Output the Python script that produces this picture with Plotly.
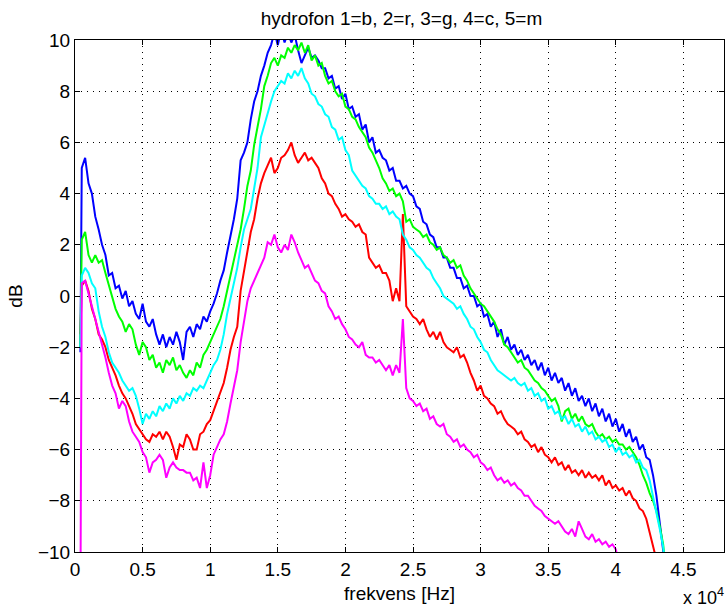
import numpy as np
import plotly.graph_objects as go

# frequency axis in units of 10^4 Hz: one initial sample, then a 250 Hz grid
f_first = 0.04
f_start = 0.05
f_step = 0.025

blue = [-2.2,
    5.0, 5.4, 4.4, 4.0, 3.1, 2.6, 2.0, 1.6, 0.8, 0.9,
    0.3, 0.4, -0.1, 0.2, -0.4, -0.2, -0.7, -0.9, -0.3, -1.0,
    -1.2, -0.9, -1.5, -1.9, -1.5, -2.0, -1.6, -1.9, -1.4, -1.8,
    -2.5, -1.4, -1.2, -1.6, -1.1, -1.3, -0.8, -1.0, -0.6, -0.3,
    0.1, 0.6, 1.0, 1.7, 2.3, 3.0, 3.8, 5.3, 5.6, 6.0,
    6.9, 7.6, 8.0, 8.6, 9.0, 9.5, 9.8, 10.3, 9.8, 10.4,
    9.9, 10.3, 9.9, 10.2, 9.6, 9.1, 9.4, 9.7, 9.3, 9.4,
    9.2, 8.9, 8.9, 8.5, 8.6, 8.1, 8.2, 7.7, 7.9, 7.3,
    7.4, 7.0, 7.1, 6.5, 6.7, 6.0, 6.2, 5.6, 5.7, 5.4,
    5.3, 4.9, 5.0, 4.5, 4.5, 4.2, 4.3, 4.0, 3.9, 3.5,
    3.4, 2.9, 2.8, 2.4, 2.3, 1.9, 1.9, 1.5, 1.5, 1.1,
    1.1, 0.7, 0.7, 0.3, 0.4, 0.0, 0.0, -0.4, -0.3, -0.8,
    -0.7, -1.2, -1.0, -1.6, -1.3, -1.9, -1.6, -2.1, -1.9, -2.3,
    -2.1, -2.5, -2.3, -2.7, -2.5, -2.9, -2.6, -3.1, -2.8, -3.3,
    -3.0, -3.4, -3.2, -3.7, -3.4, -3.9, -3.6, -4.1, -3.9, -4.3,
    -4.0, -4.5, -4.2, -4.7, -4.4, -4.9, -4.6, -5.1, -4.8, -5.3,
    -5.0, -5.5, -5.2, -5.7, -5.5, -6.0, -5.8, -6.3, -6.4, -7.0,
    -7.8, -8.8, -9.8, -11.0]

red = [-1.5,
    0.4, 0.6, 0.2, -0.5, -0.9, -1.5, -1.7, -2.0, -2.5, -2.8,
    -3.1, -3.5, -3.8, -4.0, -4.3, -4.6, -5.0, -5.2, -5.4, -5.6,
    -5.7, -5.4, -5.5, -5.3, -5.6, -5.3, -5.5, -5.9, -6.4, -5.8,
    -5.9, -5.4, -5.6, -6.0, -6.0, -5.4, -5.3, -5.0, -4.85, -4.5,
    -4.1, -3.8, -3.4, -2.8, -2.1, -1.6, -1.2, 0.2, 1.0, 1.8,
    2.5, 3.0, 3.8, 4.4, 4.8, 5.1, 5.4, 4.8, 5.0, 5.4,
    5.5, 5.7, 6.0, 5.5, 5.2, 5.4, 5.6, 5.3, 5.4, 5.2,
    5.0, 4.6, 4.4, 4.0, 3.9, 3.6, 3.4, 3.1, 3.2, 3.0,
    2.9, 2.7, 2.8, 2.5, 2.4, 1.5, 1.3, 1.1, 1.2, 0.9,
    0.9, 0.6, -0.2, 0.3, -0.2, 3.2, -0.4, -0.6, -0.8, -0.9,
    -1.1, -0.9, -1.3, -1.6, -1.4, -1.7, -1.4, -1.8, -2.0, -2.1,
    -2.2, -2.0, -2.4, -2.3, -2.6, -3.0, -3.3, -3.7, -3.5, -3.9,
    -4.0, -4.2, -4.3, -4.6, -4.5, -4.8, -5.0, -5.1, -5.2, -5.4,
    -5.3, -5.6, -5.7, -5.9, -5.8, -6.1, -5.9, -6.2, -6.3, -6.5,
    -6.3, -6.6, -6.5, -6.8, -6.6, -6.9, -6.8, -7.0, -6.8, -7.1,
    -6.9, -7.1, -7.0, -7.2, -7.0, -7.4, -7.2, -7.5, -7.4, -7.6,
    -7.5, -7.8, -7.6, -7.9, -8.0, -8.3, -8.4, -8.7, -9.2, -9.7,
    -10.3, -11.0]

green = [-2.0,
    2.2, 2.5, 1.6, 1.3, 1.6, 1.3, 1.4, 0.9, 0.4, 0.0,
    -0.5, -0.8, -1.0, -1.4, -1.1, -1.3, -1.9, -2.3, -1.8, -2.0,
    -2.5, -2.3, -2.8, -2.6, -3.0, -2.5, -2.7, -2.4, -2.9, -2.7,
    -3.0, -3.2, -2.9, -3.1, -2.6, -2.8, -2.3, -2.1, -1.8, -1.5,
    -1.2, -0.9, -0.4, 0.2, 0.8, 1.4, 2.0, 2.6, 3.4, 4.3,
    4.9, 5.9, 6.6, 7.3, 8.2, 8.6, 9.1, 9.3, 9.0, 9.4,
    9.3, 9.7, 9.5, 9.8, 9.6, 9.9, 9.5, 9.8, 9.2, 9.4,
    9.0, 9.1, 8.6, 8.3, 8.4, 8.0, 7.8, 7.9, 7.4, 7.3,
    7.0, 6.9, 6.6, 6.4, 6.2, 5.8, 5.6, 5.3, 5.0, 4.6,
    4.4, 4.1, 4.2, 3.9, 4.0, 3.7, 2.9, 3.0, 2.7, 2.6,
    2.5, 2.3, 2.4, 2.1, 2.0, 1.8, 1.9, 1.6, 1.5, 1.3,
    1.4, 1.1, 1.2, 0.8, 0.6, 0.3, 0.1, -0.1, -0.3, -0.4,
    -0.6, -0.8, -1.0, -1.3, -1.5, -1.9, -2.0, -2.2, -2.4, -2.6,
    -2.5, -2.8, -2.9, -3.1, -3.3, -3.4, -3.6, -3.7, -3.9, -4.1,
    -4.0, -4.3, -4.9, -4.5, -4.4, -4.8, -4.6, -4.9, -4.7, -5.0,
    -5.1, -5.0, -5.3, -5.5, -5.4, -5.6, -5.5, -5.7, -5.6, -5.8,
    -5.8, -6.0, -5.9, -6.1, -6.3, -6.6, -7.0, -7.3, -7.7, -8.0,
    -8.4, -9.0, -9.7, -11.0]

cyan = [-2.0,
    0.8, 1.1, 0.9, 0.5, 0.3, -0.6, -1.2, -1.6, -2.2, -2.6,
    -2.8, -3.0, -3.3, -3.5, -3.7, -3.6, -3.9, -4.4, -5.0, -4.6,
    -4.8, -4.5, -4.7, -4.3, -4.5, -4.2, -4.4, -4.0, -4.2, -3.9,
    -4.1, -3.8, -3.9, -3.6, -3.7, -3.5, -3.6, -3.3, -3.0, -2.7,
    -2.5, -2.1, -1.5, -0.7, -0.1, 0.5, 1.1, 1.9, 2.6, 3.0,
    3.4, 4.2, 5.0, 6.2, 6.7, 7.1, 7.6, 8.0, 8.2, 8.4,
    8.3, 8.7, 8.5, 8.8, 8.6, 8.9, 8.5, 8.3, 7.9, 7.8,
    7.5, 7.4, 7.1, 7.0, 6.6, 6.5, 6.1, 6.2, 5.7, 5.5,
    4.9, 4.7, 4.5, 4.3, 4.2, 3.9, 3.8, 3.6, 3.6, 3.4,
    3.5, 3.2, 3.3, 3.1, 3.0, 2.4, 2.2, 1.9, 1.8, 1.6,
    1.5, 1.3, 1.1, 1.0, 0.7, 0.5, 0.3, 0.0, -0.1, -0.2,
    -0.3, -0.5, -0.4, -0.7, -0.9, -1.2, -1.3, -1.6, -1.8, -2.1,
    -2.2, -2.5, -2.7, -2.9, -3.0, -3.1, -3.2, -3.3, -3.2, -3.4,
    -3.5, -3.4, -3.7, -3.6, -3.9, -3.8, -4.1, -4.0, -4.4, -4.3,
    -4.6, -4.5, -4.8, -4.7, -5.0, -4.8, -5.1, -5.0, -5.3, -5.1,
    -5.4, -5.3, -5.6, -5.5, -5.7, -5.6, -5.9, -5.8, -6.1, -5.9,
    -6.2, -6.1, -6.3, -6.2, -6.5, -6.4, -6.7, -6.8, -7.2, -7.8,
    -8.5, -9.1, -9.8, -11.0]

magenta = [-12.0,
    0.5, 0.6, 0.1, -0.4, -0.8, -1.4, -1.9, -2.4, -3.0, -3.5,
    -3.8, -4.4, -4.1, -4.3, -4.9, -5.3, -5.5, -5.7, -6.1, -6.3,
    -6.9, -6.5, -6.4, -6.2, -6.4, -7.1, -6.7, -6.5, -6.7, -6.8,
    -6.8, -6.9, -6.9, -7.2, -7.1, -7.5, -6.5, -7.5, -7.0, -6.2,
    -5.9, -5.6, -5.4, -4.9, -4.2, -3.6, -2.9, -1.8, -0.9, -0.2,
    0.3, 0.6, 0.9, 1.2, 1.5, 2.1, 2.0, 2.4, 1.9, 1.7,
    2.0, 1.8, 2.4, 2.1, 1.7, 1.4, 1.1, 1.2, 0.9, 0.6,
    0.5, 0.2, 0.1, -0.4, -0.6, -0.9, -0.8, -1.1, -1.3, -1.6,
    -1.7, -1.9, -2.0, -1.8, -2.3, -2.4, -2.4, -2.6, -2.5, -2.7,
    -2.9, -2.7, -3.1, -2.7, -3.0, -0.9, -3.6, -4.0, -4.1, -4.3,
    -4.2, -4.5, -4.4, -4.8, -4.7, -5.0, -5.1, -5.0, -5.4, -5.5,
    -5.7, -5.6, -5.9, -5.8, -6.0, -6.1, -6.3, -6.2, -6.5, -6.6,
    -6.8, -6.7, -7.0, -7.2, -7.1, -7.3, -7.2, -7.4, -7.3, -7.5,
    -7.6, -7.8, -7.8, -8.0, -8.2, -8.3, -8.4, -8.6, -8.7, -8.8,
    -8.9, -8.8, -9.0, -9.2, -9.3, -9.1, -9.4, -8.8, -9.1, -9.4,
    -9.5, -9.3, -9.6, -9.5, -9.7, -9.6, -9.8, -9.7, -9.9, -10.5]

series = [("1", blue, "#0000ff"), ("2", red, "#ff0000"), ("3", green, "#00ff00"),
          ("4", cyan, "#00ffff"), ("5", magenta, "#ff00ff")]

x_ticks = [0, 0.5, 1, 1.5, 2, 2.5, 3, 3.5, 4, 4.5]
x_ticklabels = ["0", "0.5", "1", "1.5", "2", "2.5", "3", "3.5", "4", "4.5"]
y_ticks = [-10, -8, -6, -4, -2, 0, 2, 4, 6, 8, 10]

fig = go.Figure()
for name, vals, col in series:
    n = len(vals) - 1
    xs = np.concatenate([[f_first], f_start + f_step * np.arange(n)])
    fig.add_trace(go.Scatter(x=xs, y=vals, mode="lines", name=name,
                             line=dict(color=col, width=2), showlegend=False))

font = "Liberation Sans, Arial, sans-serif"
fs = 19
axis_common = dict(showline=True, linecolor="black", linewidth=1, mirror="ticks",
                   ticks="inside", ticklen=5, tickcolor="black",
                   showgrid=True, gridcolor="black", gridwidth=1, griddash="1px,5px",
                   zeroline=False, tickfont=dict(family=font, size=fs, color="black"))

fig.update_layout(
    width=726, height=612,
    margin=dict(l=75, r=2, t=40, b=60),
    paper_bgcolor="white", plot_bgcolor="white",
    title=dict(text="hydrofon 1=b, 2=r, 3=g, 4=c, 5=m", x=0.553, xanchor="center",
               y=0.97, yanchor="middle", font=dict(family=font, size=fs, color="black")),
    xaxis=dict(range=[0, 4.8], tickvals=x_ticks, ticktext=x_ticklabels,
               title=dict(text="frekvens [Hz]", font=dict(family=font, size=fs, color="black"),
                          standoff=7),
               **axis_common),
    yaxis=dict(range=[-10, 10], tickvals=y_ticks,
               title=dict(text="dB", font=dict(family=font, size=fs, color="black"), standoff=10),
               **axis_common),
)
fig.add_annotation(text="x 10<sup>4</sup>", xref="paper", yref="paper", x=1.003, y=-0.114,
                   xanchor="right", yanchor="bottom", showarrow=False,
                   font=dict(family=font, size=fs - 1, color="black"))

fig.write_html("out.html")
